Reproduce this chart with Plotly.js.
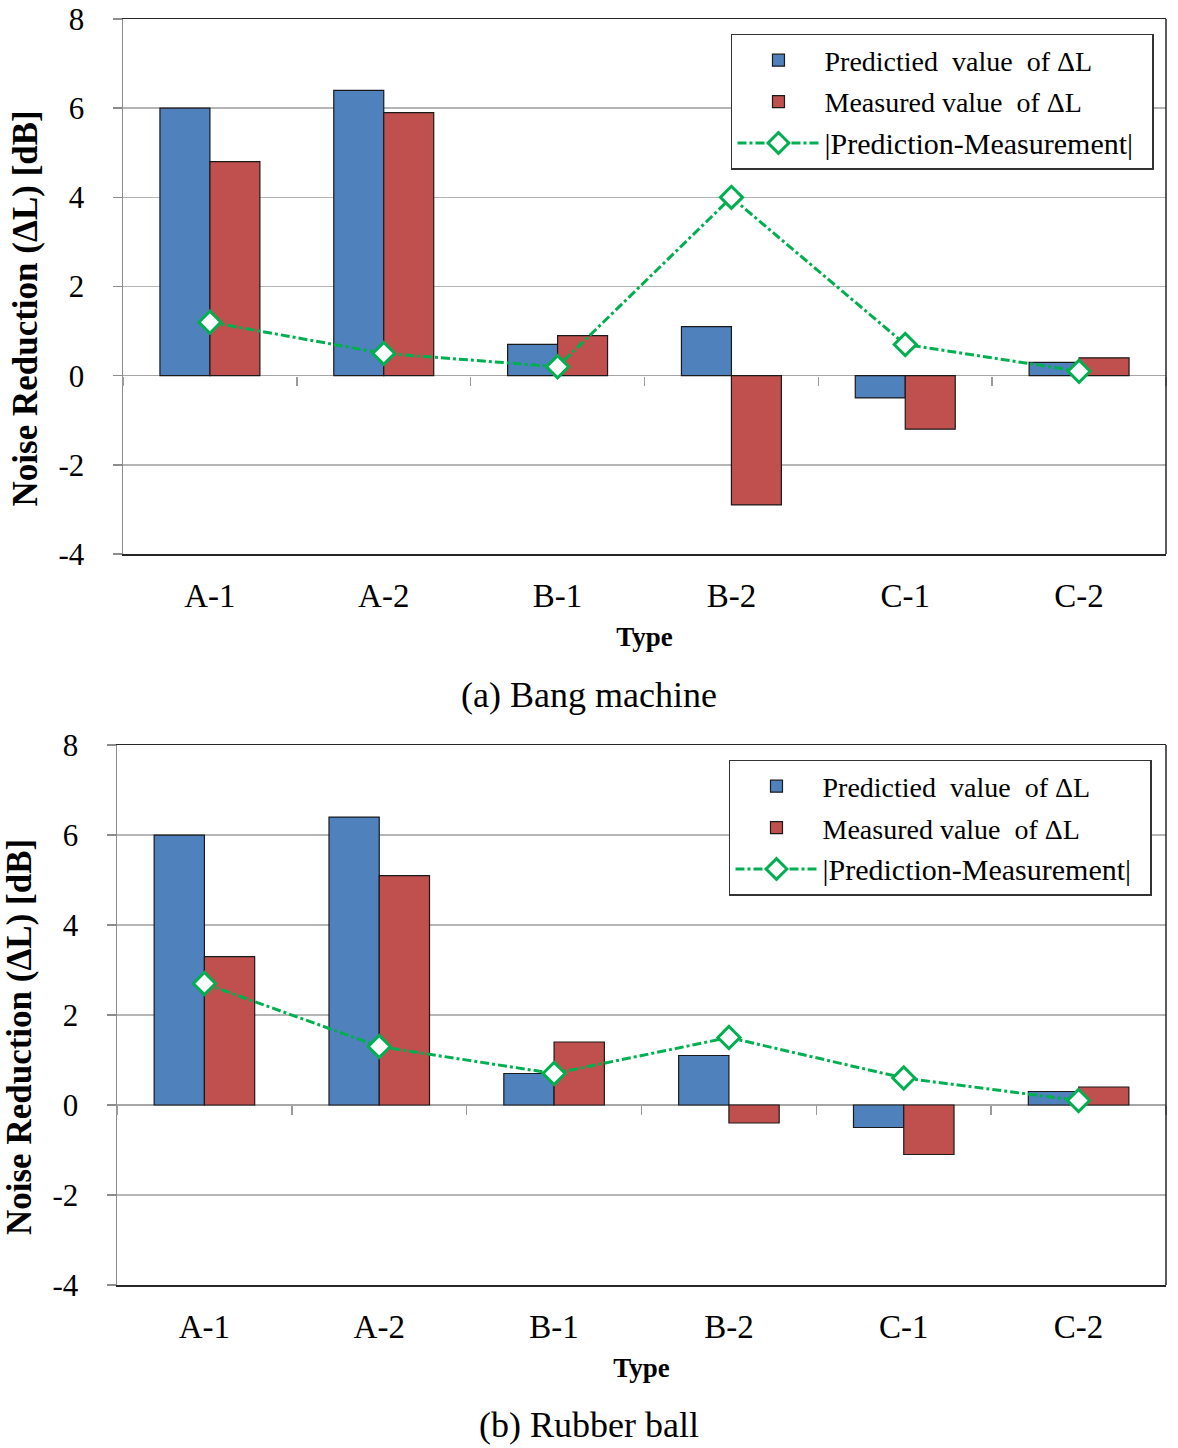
<!DOCTYPE html>
<html>
<head>
<meta charset="utf-8">
<script src="https://cdn.plot.ly/plotly-3.0.1.min.js"></script>
<style>body{margin:0;background:#fff}#chart{width:1178px;height:1448px}</style>
</head>
<body>
<div id="chart"></div>
<script>
// ---- data ----
const categories = ["A-1", "A-2", "B-1", "B-2", "C-1", "C-2"];
// (a) Bang machine
const bangPredicted = [6.0, 6.4, 0.7, 1.1, -0.5, 0.3];
const bangMeasured  = [4.8, 5.9, 0.9, -2.9, -1.2, 0.4];
const bangDiff      = [1.2, 0.5, 0.2, 4.0, 0.7, 0.1];
// (b) Rubber ball
const ballPredicted = [6.0, 6.4, 0.7, 1.1, -0.5, 0.3];
const ballMeasured  = [3.3, 5.1, 1.4, -0.4, -1.1, 0.4];
const ballDiff      = [2.7, 1.3, 0.7, 1.5, 0.6, 0.1];
const yTicks = [-4, -2, 0, 2, 4, 6, 8];
const yTickText = ["-4", "-2", "0", "2", "4", "6", "8"];

const nameP = "Predictied\u00A0 value\u00A0 of ΔL";
const nameM = "Measured value\u00A0 of ΔL";
const nameD = "<span style=\"font-size:30px\">|Prediction-Measurement|</span>\u00A0\u00A0";
const yTitle = "<b>Noise Reduction (ΔL) [dB]\u00A0\u00A0\u00A0\u00A0\u00A0</b>";

const serif = "Liberation Serif, Times New Roman, serif";
const blue = "#4F81BD", red = "#C0504D", green = "#00B050";

function traces(xa, ya, leg, pred, meas, diff) {
  return [
    {type: "bar", x: categories, y: pred, name: nameP, xaxis: xa, yaxis: ya, legend: leg, legendgroup: leg + "p",
     marker: {color: blue, line: {color: "#1a1a1a", width: 1.2}}, hoverinfo: "skip"},
    {type: "bar", x: categories, y: meas, name: nameM, xaxis: xa, yaxis: ya, legend: leg, legendgroup: leg + "m",
     marker: {color: red, line: {color: "#1a1a1a", width: 1.2}}, hoverinfo: "skip"},
    {type: "scatter", mode: "lines+markers", x: categories, y: diff, name: nameD, xaxis: xa, yaxis: ya, legend: leg, legendgroup: leg + "d",
     line: {color: green, width: 3, dash: "dashdot"},
     marker: {symbol: "diamond", size: 17, color: "#fff", line: {color: green, width: 3}}, hoverinfo: "skip"}
  ];
}

const data = [].concat(
  traces("x", "y", "legend", bangPredicted, bangMeasured, bangDiff),
  traces("x2", "y2", "legend2", ballPredicted, ballMeasured, ballDiff),
  [
    {type: "scatter", mode: "markers", x: categories, y: categories.map(() => null), xaxis: "x3", yaxis: "y", showlegend: false, hoverinfo: "skip"},
    {type: "scatter", mode: "markers", x: categories, y: categories.map(() => null), xaxis: "x4", yaxis: "y2", showlegend: false, hoverinfo: "skip"}
  ]
);

const topDom = [0.5774, 1], botDom = [0, 0.4265];
const zeroPos = d => d[0] + (d[1] - d[0]) * (4 / 12);

function xAxis(dom, anchor) {
  return {
    domain: dom, anchor: anchor, type: "category", range: [-0.5, 5.5],
    showline: true, mirror: true, linecolor: "#262626", linewidth: 1.5,
    ticks: "", showgrid: false, zeroline: false,
    tickfont: {family: serif, size: 33, color: "#000"}, ticklabelstandoff: 12,
    title: {text: "<b>Type</b>", font: {family: serif, size: 27, color: "#000"}, standoff: 14}
  };
}
function zeroAxis(over, pos) {
  return {
    overlaying: over, anchor: "free", position: pos, type: "category", range: [-0.5, 5.5],
    tickson: "boundaries", ticks: "outside", ticklen: 9, tickwidth: 1.5, tickcolor: "#9a9a9a",
    showticklabels: false, showgrid: false, showline: false, zeroline: false
  };
}
function yAxis(dom, anchor, standoff) {
  return {
    domain: dom, anchor: anchor, range: [-4, 8], tickvals: yTicks, ticktext: yTickText,
    showline: true, linecolor: "#8c8c8c", linewidth: 1.5,
    ticks: "outside", ticklen: 9, tickwidth: 1.5, tickcolor: "#8c8c8c",
    showgrid: true, gridcolor: "#b5b5b5", gridwidth: 1.5,
    zeroline: true, zerolinecolor: "#a6a6a6", zerolinewidth: 1.5,
    tickfont: {family: serif, size: 31, color: "#000"}, ticklabelstandoff: 22,
    title: {text: yTitle, font: {family: serif, size: 35, color: "#000"}, standoff: standoff}
  };
}
function legendBox(x, y) {
  return {
    x: x, y: y, xanchor: "left", yanchor: "top", xref: "paper", yref: "paper",
    bgcolor: "#fff", bordercolor: "#333", borderwidth: 1.5,
    font: {family: serif, size: 28, color: "#000"},
    traceorder: "grouped", tracegroupgap: 2, itemwidth: 82
  };
}

const layout = {
  width: 1178, height: 1448,
  margin: {l: 117, r: 12, t: 19, b: 163},
  paper_bgcolor: "#fff", plot_bgcolor: "#fff",
  barmode: "group", bargap: 0.425, bargroupgap: 0,
  showlegend: true,
  xaxis: xAxis([6 / 1049, 1], "y"),
  yaxis: yAxis(topDom, "x", 10),
  xaxis2: xAxis([0, 1], "y2"),
  yaxis2: yAxis(botDom, "x2", 14),
  xaxis3: zeroAxis("x", zeroPos(topDom)),
  xaxis4: zeroAxis("x2", zeroPos(botDom)),
  legend: legendBox(0.5853, 0.9882),
  legend2: legendBox(0.5834, 0.4147),
  shapes: [
    {type: "line", xref: "x domain", yref: "y domain", x0: 1, x1: 1, y0: 0, y1: 1, line: {color: "#262626", width: 1.5}},
    {type: "line", xref: "x2 domain", yref: "y2 domain", x0: 1, x1: 1, y0: 0, y1: 1, line: {color: "#262626", width: 1.5}}
  ],
  annotations: [
    {text: "(a) Bang machine", xref: "paper", yref: "paper", x: 0.45, y: 0.466, showarrow: false,
     xanchor: "center", yanchor: "middle", font: {family: serif, size: 36, color: "#000"}},
    {text: "(b) Rubber ball", xref: "paper", yref: "paper", x: 0.45, y: -0.1106, showarrow: false,
     xanchor: "center", yanchor: "middle", font: {family: serif, size: 36, color: "#000"}}
  ]
};

Plotly.newPlot("chart", data, layout, {staticPlot: true, displayModeBar: false});
</script>
</body>
</html>
